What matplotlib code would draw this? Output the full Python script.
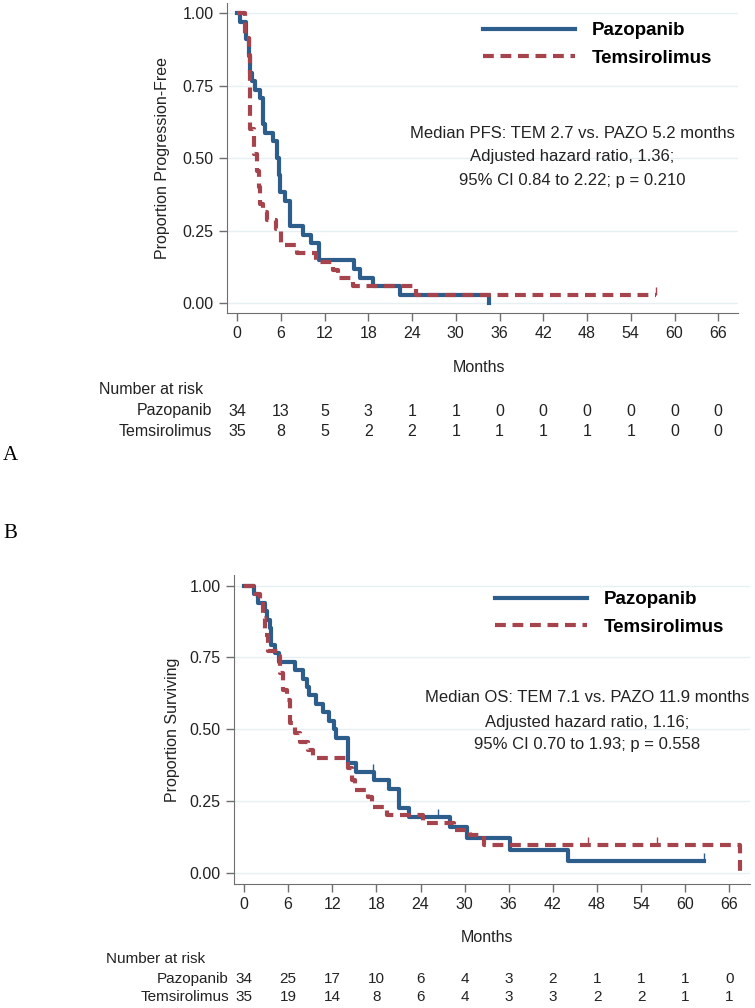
import matplotlib.pyplot as plt
from matplotlib.transforms import blended_transform_factory

# ---- panel A: progression-free survival (step times in months, proportion)
pfs_pazo_t = [0, 0.4, 1.3, 1.6, 1.8, 2.0, 2.5, 3.15, 3.6, 3.8, 5.0, 5.45, 5.7, 5.9,
              6.6, 7.3, 9.1, 10.2, 11.2, 16.0, 16.9, 18.6, 22.4, 34.6]
pfs_pazo_s = [1.0, 0.971, 0.912, 0.853, 0.794, 0.765, 0.735, 0.706, 0.618, 0.588,
              0.559, 0.5, 0.441, 0.382, 0.353, 0.265, 0.235, 0.206, 0.147, 0.118,
              0.088, 0.059, 0.029, 0.0]
pfs_tem_t = [0, 1.1, 1.6, 1.85, 2.3, 2.7, 3.0, 3.15, 3.6, 4.1, 5.4, 6.1, 8.2,
             10.9, 13.2, 13.9, 15.9, 24.6, 57.5]
pfs_tem_s = [1.0, 0.914, 0.857, 0.6, 0.514, 0.457, 0.4, 0.343, 0.314, 0.286, 0.257,
             0.2, 0.171, 0.143, 0.114, 0.086, 0.057, 0.029, 0.029]
pfs_tem_cens_t = [57.5]
pfs_tem_cens_s = [0.029]

# ---- panel B: overall survival
os_pazo_t = [0, 1.3, 1.95, 2.9, 3.1, 3.5, 3.7, 4.2, 4.7, 6.9, 8.0, 8.5, 8.9, 9.8,
             10.7, 11.6, 12.3, 12.5, 14.2, 15.2, 17.7, 19.7, 21.1, 22.4, 28.0, 30.3,
             36.2, 44.1, 62.5]
os_pazo_s = [1.0, 0.971, 0.941, 0.912, 0.882, 0.853, 0.794, 0.765, 0.735, 0.706,
             0.676, 0.647, 0.618, 0.588, 0.559, 0.529, 0.5, 0.47, 0.382, 0.353,
             0.324, 0.294, 0.225, 0.196, 0.161, 0.121, 0.080, 0.042, 0.042]
os_tem_t = [0, 1.5, 2.2, 2.6, 2.9, 3.3, 4.7, 4.9, 5.35, 5.8, 6.3, 6.9, 7.6, 8.75,
            9.4, 14.2, 14.65, 15.1, 16.9, 17.4, 19.4, 24.4, 28.5, 30.7, 32.6, 67.4]
os_tem_s = [1.0, 0.971, 0.943, 0.886, 0.829, 0.771, 0.754, 0.696, 0.638, 0.603,
            0.522, 0.487, 0.457, 0.429, 0.402, 0.365, 0.324, 0.289, 0.266, 0.231,
            0.202, 0.173, 0.15, 0.132, 0.098, 0.0]
os_pazo_cens_t = [17.5, 26.4, 62.5]
os_pazo_cens_s = [0.353, 0.196, 0.042]
os_tem_cens_t = [46.8, 56.1]
os_tem_cens_s = [0.098, 0.098]

risk_months = list(range(0, 67, 6))
pfs_risk_pazo = [34, 13, 5, 3, 1, 1, 0, 0, 0, 0, 0, 0]
pfs_risk_tem = [35, 8, 5, 2, 2, 1, 1, 1, 1, 1, 0, 0]
os_risk_pazo = [34, 25, 17, 10, 6, 4, 3, 2, 1, 1, 1, 0]
os_risk_tem = [35, 19, 14, 8, 6, 4, 3, 3, 2, 2, 1, 1]

blue = "#2d5d8b"
red = "#a5444c"
ink = "#222222"
plt.rcParams["font.family"] = ["Liberation Sans", "DejaVu Sans"]

W, H = 755, 1008
fig = plt.figure(figsize=(W / 100, H / 100), dpi=100)


# helpers: pixel positions (from top-left) -> figure fractions
def fx(px):
    return px / W


def fy(py):
    return 1 - py / H


def km_panel(box, xlim, ylim, paz_t, paz_s, tem_t, tem_s, ylabel, ylab_x,
             notes, note_x, note_ys, leg_anchor):
    left, top, right, bottom = box
    ax = fig.add_axes([fx(left), fy(bottom), fx(right - left), (bottom - top) / H])
    ax.step(paz_t, paz_s, where="post", color=blue, lw=3.0, label="Pazopanib")
    ax.step(tem_t, tem_s, where="post", color=red, lw=3.0, ls=(0, (2.6, 1.6)),
            label="Temsirolimus")
    ax.set_xlim(*xlim)
    ax.set_ylim(*ylim)
    ax.set_xticks(risk_months)
    ax.set_yticks([0, 0.25, 0.5, 0.75, 1.0])
    ax.set_yticklabels(["0.00", "0.25", "0.50", "0.75", "1.00"])
    ax.yaxis.grid(True, color="#e6eff2", lw=1.0)
    ax.set_axisbelow(True)
    for s in ["top", "right"]:
        ax.spines[s].set_visible(False)
    for s in ["left", "bottom"]:
        ax.spines[s].set_color("#6e6e6e")
    ax.tick_params(colors="#6e6e6e", labelcolor=ink, labelsize=11.5,
                   length=6, width=1.0)
    ax.set_ylabel(ylabel, fontsize=11.5, color=ink, va="center")
    ax.yaxis.set_label_coords((ylab_x - left) / (right - left), 0.5)
    for txt, ny in zip(notes, note_ys):
        ax.text((note_x - left) / (right - left), (bottom - ny) / (bottom - top), txt,
                ha="center", va="center", fontsize=12, color=ink,
                transform=ax.transAxes)
    ax.legend(loc="upper left",
              bbox_to_anchor=((leg_anchor[0] - left) / (right - left),
                              (bottom - leg_anchor[1]) / (bottom - top)),
              frameon=False, borderpad=0, borderaxespad=0, handlelength=4.9,
              handletextpad=0.9, labelspacing=0.55,
              prop={"weight": "bold", "size": 13.5})
    return ax


def risk_table(ax, months_pos, head_pos, lab_right, rows_py, paz, tem, size=11.5):
    trans = blended_transform_factory(ax.transData, fig.transFigure)
    fig.text(fx(months_pos[0]), fy(months_pos[1]), "Months", ha="center",
             va="center", fontsize=11.5, color=ink)
    fig.text(fx(head_pos[0]), fy(head_pos[1]), "Number at risk", ha="left",
             va="center", fontsize=size, color=ink)
    for name, vals, py in zip(["Pazopanib", "Temsirolimus"], [paz, tem], rows_py):
        fig.text(fx(lab_right), fy(py), name, ha="right", va="center",
                 fontsize=size, color=ink)
        for m, v in zip(risk_months, vals):
            ax.text(m, fy(py), str(v), ha="center", va="center", fontsize=size,
                    color=ink, transform=trans)


# panel A
axA = km_panel((227, 3, 738, 313), (-1.37, 68.7), (-0.0345, 1.0356),
               pfs_pazo_t, pfs_pazo_s, pfs_tem_t, pfs_tem_s,
               "Proportion Progression-Free", 162,
               ["Median PFS: TEM 2.7 vs. PAZO 5.2 months",
                "Adjusted hazard ratio, 1.36;",
                "95% CI 0.84 to 2.22; p = 0.210"], 572, [133, 157, 181], (483, 22))
axA.plot(pfs_tem_cens_t, pfs_tem_cens_s, ls="none", marker=2, ms=6, mew=1.0,
         color=red)
risk_table(axA, (479, 367), (99, 390), 212, [411, 432], pfs_risk_pazo, pfs_risk_tem)

# panel B
axB = km_panel((234, 575, 750, 884), (-1.36, 68.8), (-0.038, 1.037),
               os_pazo_t, os_pazo_s, os_tem_t, os_tem_s,
               "Proportion Surviving", 173,
               ["Median OS: TEM 7.1 vs. PAZO 11.9 months",
                "Adjusted hazard ratio, 1.16;",
                "95% CI 0.70 to 1.93; p = 0.558"], 587, [697, 722, 745], (495, 591))
axB.plot(os_pazo_cens_t, os_pazo_cens_s, ls="none", marker=2, ms=6, mew=1.0,
         color=blue)
axB.plot(os_tem_cens_t, os_tem_cens_s, ls="none", marker=2, ms=6, mew=1.0,
         color=red)
risk_table(axB, (487, 938), (106, 959), 229, [979, 997], os_risk_pazo, os_risk_tem,
           size=11)

# panel letters
fig.text(fx(3), fy(455), "A", family="Liberation Serif", fontsize=15, va="center")
fig.text(fx(3), fy(533), "B", family="Liberation Serif", fontsize=15, va="center")

fig.savefig("out.png", dpi=100)
